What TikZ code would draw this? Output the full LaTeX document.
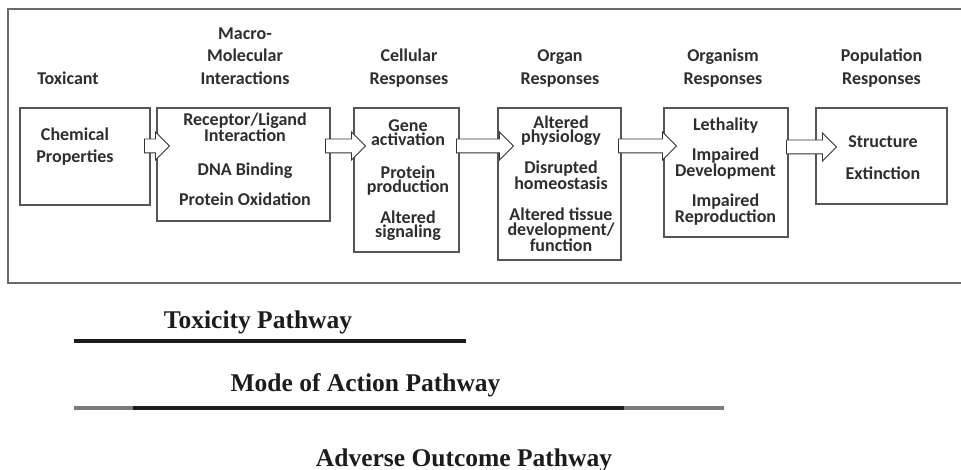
\documentclass[tikz,border=0pt]{standalone}
\usepackage{fontspec}
\newfontfamily\boxfont{Carlito}
\newfontfamily\pathfont{Liberation Serif}
\usetikzlibrary{shapes.arrows}
\definecolor{txt}{HTML}{2E2E2E}
\definecolor{framec}{HTML}{6A6A6A}
\definecolor{boxc}{HTML}{555555}
\definecolor{arrc}{HTML}{333333}
\definecolor{darkbar}{HTML}{1C1C1C}
\definecolor{graybar}{HTML}{7A7A7A}
\begin{document}
\begin{tikzpicture}[x=1pt,y=-1pt,
  frame/.style={draw=framec, line width=2.5pt},
  box/.style={draw=boxc, line width=2pt, fill=white, inner sep=0pt, anchor=center},
  head/.style={font=\boxfont\bfseries\fontsize{18}{22.5}\selectfont, text=txt, align=center, anchor=base, inner sep=0pt},
  item/.style={font=\boxfont\bfseries\fontsize{18}{14.5}\selectfont, text=txt, align=center, anchor=base, inner sep=0pt},
  blockarrow/.style={single arrow, draw=arrc, fill=white, line width=0.9pt, inner sep=6.5pt, single arrow head extend=7pt, single arrow head indent=0pt, anchor=center},
  pathlabel/.style={font=\pathfont\bfseries\fontsize{25.5}{28}\selectfont, text=darkbar, anchor=base, inner sep=0pt},
  bar/.style={line width=4pt}
]
\useasboundingbox (0,0) rectangle (961,470);
\fill[white] (0,0) rectangle (961,470);

% outer frame (right side lies beyond the picture)
\coordinate (ftr) at (970,9);
\coordinate (ftl) at (8,9);
\coordinate (fbl) at (8,283);
\coordinate (fbr) at (970,283);
\draw[frame] (ftr) -- (ftl) -- (fbl) -- (fbr);

% headings (anchored at the baseline of the last line)
\node[head] (h1) at (68,84.5) {Toxicant};
\node[head] (h2) at (245,84.5) {Macro-\\Molecular\\Interactions};
\node[head] (h3) at (409,84.5) {Cellular\\Responses};
\node[head] (h4) at (560,84.5) {Organ\\Responses};
\node[head] (h5) at (723,84.5) {Organism\\Responses};
\node[head] (h6) at (881.5,84.5) {Population\\Responses};

% boxes
\node[box, minimum width=130pt, minimum height=97pt] (b1) at (85,156.5) {};
\node[box, minimum width=173pt, minimum height=113pt] (b2) at (243.5,164.5) {};
\node[box, minimum width=105pt, minimum height=144pt] (b3) at (406.5,180) {};
\node[box, minimum width=123pt, minimum height=152pt] (b4) at (559.5,184) {};
\node[box, minimum width=124pt, minimum height=129pt] (b5) at (726,172.5) {};
\node[box, minimum width=131pt, minimum height=96pt] (b6) at (881.5,156) {};

% box texts (anchored at the baseline of the last line)
\node[item, font=\boxfont\bfseries\fontsize{18}{22}\selectfont] (t11) at (75,162.5) {Chemical\\Properties};

\node[item] (t21) at (245,142) {Receptor/Ligand\\Interaction};
\node[item] (t22) at (245,175.5) {DNA Binding};
\node[item] (t23) at (245,205.5) {Protein Oxidation};

\node[item] (t31) at (408,146) {Gene\\activation};
\node[item] (t32) at (408,193) {Protein\\production};
\node[item] (t33) at (408,238) {Altered\\signaling};

\node[item] (t41) at (561,143) {Altered\\physiology};
\node[item] (t42) at (561,190) {Disrupted\\homeostasis};
\node[item] (t43) at (561,251.5) {Altered tissue\\development/\\function};

\node[item] (t51) at (725.5,130.5) {Lethality};
\node[item] (t52) at (725.5,177) {Impaired\\Development};
\node[item] (t53) at (725.5,223) {Impaired\\Reproduction};

\node[item] (t61) at (883,147.5) {Structure};
\node[item] (t62) at (883,179.5) {Extinction};

% block arrows between boxes
\node[blockarrow, minimum height=25pt] (a1) at (153.5,146) {};
\node[blockarrow, minimum height=40pt] (a2) at (342,146) {};
\node[blockarrow, minimum height=57pt] (a3) at (481.5,146) {};
\node[blockarrow, minimum height=58pt] (a4) at (644,146) {};
\node[blockarrow, minimum height=50pt] (a5) at (808,147) {};

% pathway labels and bars
\node[pathlabel] (p1) at (258,328) {Toxicity Pathway};
\coordinate (l1a) at (74,341);
\coordinate (l1b) at (466,341);
\draw[bar, darkbar] (l1a) -- (l1b);

\node[pathlabel] (p2) at (365.5,391) {Mode of Action Pathway};
\coordinate (l2a) at (74,408);
\coordinate (l2b) at (133,408);
\coordinate (l2c) at (624,408);
\coordinate (l2d) at (724,408);
\draw[bar, graybar] (l2a) -- (l2b);
\draw[bar, darkbar] (l2b) -- (l2c);
\draw[bar, graybar] (l2c) -- (l2d);

\node[pathlabel] (p3) at (464,466) {Adverse Outcome Pathway};
\end{tikzpicture}
\end{document}
